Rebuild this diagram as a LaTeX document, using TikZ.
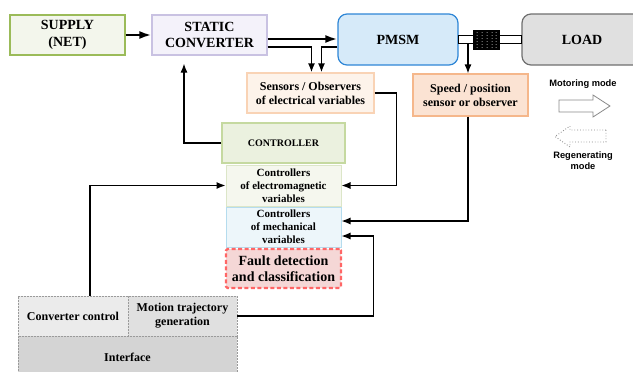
\documentclass[tikz,border=0pt]{standalone}
\usepackage{fontspec}
\setmainfont{Liberation Serif}
\newfontfamily\labelsans{Liberation Sans}
\usetikzlibrary{arrows.meta,calc}

\definecolor{supplyfill}{HTML}{F3F6EC}
\definecolor{supplyline}{HTML}{9BBB59}
\definecolor{convfill}{HTML}{F4F2FA}
\definecolor{convline}{HTML}{C9C2E2}
\definecolor{pmsmfill}{HTML}{D6EAF9}
\definecolor{pmsmline}{HTML}{2E86D6}
\definecolor{loadfill}{HTML}{E0E0E0}
\definecolor{loadline}{HTML}{6F6F6F}
\definecolor{sensfill}{HTML}{FDF3EA}
\definecolor{sensline}{HTML}{F9D3B5}
\definecolor{speedfill}{HTML}{FBE3D3}
\definecolor{speedline}{HTML}{F5B78B}
\definecolor{ctrlfill}{HTML}{EBF1DF}
\definecolor{ctrlline}{HTML}{C5D9A0}
\definecolor{emfill}{HTML}{F5F7EE}
\definecolor{emline}{HTML}{DCE6C8}
\definecolor{mechfill}{HTML}{EDF6FA}
\definecolor{mechline}{HTML}{B5DCEE}
\definecolor{faultfill}{HTML}{F5D7D6}
\definecolor{faultline}{HTML}{FF6666}
\definecolor{ccfill}{HTML}{EBEBEB}
\definecolor{mtgfill}{HTML}{E0E0E0}
\definecolor{ifacefill}{HTML}{D4D4D4}
\definecolor{dashgray}{HTML}{9A9A9A}
\definecolor{modegray}{HTML}{8A8A8A}

\tikzset{
  box/.style={draw, line width=1.2pt, rectangle, inner sep=0pt, align=center,
    font=\bfseries\fontsize{12}{14}\selectfont},
  bigbox/.style={box, font=\bfseries\fontsize{14}{16.5}\selectfont},
  smallbox/.style={box, line width=1pt, font=\bfseries\fontsize{11}{13}\selectfont},
  greybox/.style={box, line width=0.8pt, draw=dashgray, dash pattern=on 2pt off 1pt},
  wire/.style={line width=1.2pt, -{Latex[length=9pt,width=7pt]}},
  heavywire/.style={line width=2.2pt, -{Latex[length=12pt,width=8pt]}},
  modearrow/.style={draw=modegray, fill=white, line width=0.8pt, line join=miter},
  modetext/.style={font=\labelsans\bfseries\fontsize{9.3}{11}\selectfont, align=center}
}

\begin{document}
\begin{tikzpicture}[x=1pt, y=-1pt]
\useasboundingbox (0,0) rectangle (633,372);
\clip (0,0) rectangle (633,372);

% --- power path ---
\node[bigbox, draw=supplyline, fill=supplyfill, minimum width=115pt, minimum height=40pt]
  (supply) at (67.5,35) {SUPPLY\\(NET)};
\node[bigbox, draw=convline, fill=convfill, minimum width=115pt, minimum height=40pt]
  (conv) at (209.5,35) {STATIC\\CONVERTER};
\node[bigbox, draw=pmsmline, fill=pmsmfill, rounded corners=9pt,
  minimum width=120pt, minimum height=51pt] (pmsm) at (398,39.5) {PMSM};
\node[bigbox, draw=loadline, fill=loadfill, rounded corners=9pt,
  minimum width=170pt, minimum height=51pt] (load) at (607,39.5) {};
\node[font=\bfseries\fontsize{14}{16.5}\selectfont] (loadtxt) at (582,39.5) {LOAD};

% --- shaft and coupling ---
\draw[line width=1pt, fill=white] ([yshift=4.5pt]pmsm.east) rectangle ([yshift=-3.5pt]load.west);
\node[draw=black, fill=black, minimum width=26pt, minimum height=19pt, inner sep=0pt]
  (coupling) at (486,39.5) {};
\foreach \cx in {477,482,487,492,496}
  \foreach \cy in {32.5,35.5,38.5,41.5,44.5,47.5}
    \fill[white!75!black] (\cx,\cy) circle (0.5pt);
\coordinate (shaftlo) at ([yshift=-3.5pt]pmsm.east);

% --- sensing ---
\node[box, draw=sensline, fill=sensfill, minimum width=127pt, minimum height=40pt]
  (sens) at (310.5,93) {Sensors / Observers\\of electrical variables};
\node[box, draw=speedline, fill=speedfill, minimum width=115pt, minimum height=42pt]
  (speed) at (470.5,95) {Speed / position\\sensor or observer};

% --- control stack ---
\node[box, draw=ctrlline, fill=ctrlfill, minimum width=123pt, minimum height=40pt,
  font=\bfseries\fontsize{10}{12}\selectfont] (ctrl) at (283.5,143) {CONTROLLER};
\node[smallbox, draw=emline, fill=emfill, minimum width=115pt, minimum height=41pt]
  (em) at (283.5,185.5) {Controllers\\of electromagnetic\\variables};
\node[smallbox, draw=mechline, fill=mechfill, minimum width=115pt, minimum height=40pt]
  (mech) at (283.5,227) {Controllers\\of mechanical\\variables};
\node[bigbox, draw=faultline, fill=faultfill, line width=2.2pt, dash pattern=on 4pt off 2.5pt,
  rounded corners=1.5pt, minimum width=115pt, minimum height=39pt]
  (fault) at (283.5,268.5) {Fault detection\\and classification};

% --- operator side ---
\node[greybox, fill=ccfill, minimum width=110pt, minimum height=40pt]
  (cc) at (73,316) {Converter control};
\node[greybox, fill=mtgfill, minimum width=109pt, minimum height=40pt]
  (mtg) at (182.5,316) {Motion trajectory\\generation};
\node[greybox, fill=ifacefill, minimum width=219pt, minimum height=42pt]
  (iface) at (127.5,357) {Interface};

% --- connectors ---
\draw[heavywire] (supply) -- (conv);
\draw[heavywire] ([yshift=-4pt]conv.east) -- ([yshift=-4pt]conv.east -| pmsm.west);
\draw[wire, line width=1.6pt] ([yshift=-12pt]conv.east) -| ([xshift=1pt]sens.north);
\draw[wire, line width=1.6pt] ([yshift=-7.5pt]pmsm.west) -| ([xshift=11pt]sens.north);
\draw[wire] ([xshift=-2.5pt]speed.north |- shaftlo) -- ([xshift=-2.5pt]speed.north);
\draw[wire] (ctrl.west) -| ([xshift=-25.5pt]conv.south) [shorten >=8pt];
\draw[wire] (sens.east) -- ++(22,0) |- (em.east);
\draw[wire] ([xshift=17pt]cc.north) |- (em.west);
\draw[wire] ([xshift=-2.5pt]speed.south) |- ([yshift=6pt]mech.east);
\draw[wire] (mtg.east) -- ++(136,0) |- ([yshift=-9pt]mech.east);

% --- operating mode legend ---
\node[modetext] (motor) at (583,84) {Motoring mode};
\draw[modearrow] (559,100) -- (593,100) -- (593,95) -- (610,106) -- (593,117)
  -- (593,112) -- (559,112) -- cycle;
\draw[modearrow, dotted, line width=0.9pt] (606,130) -- (570,130) -- (570,126) -- (555,136.5)
  -- (570,147) -- (570,142) -- (606,142) -- cycle;
\node[modetext] (regen) at (583,161) {Regenerating\\mode};
\end{tikzpicture}
\end{document}
